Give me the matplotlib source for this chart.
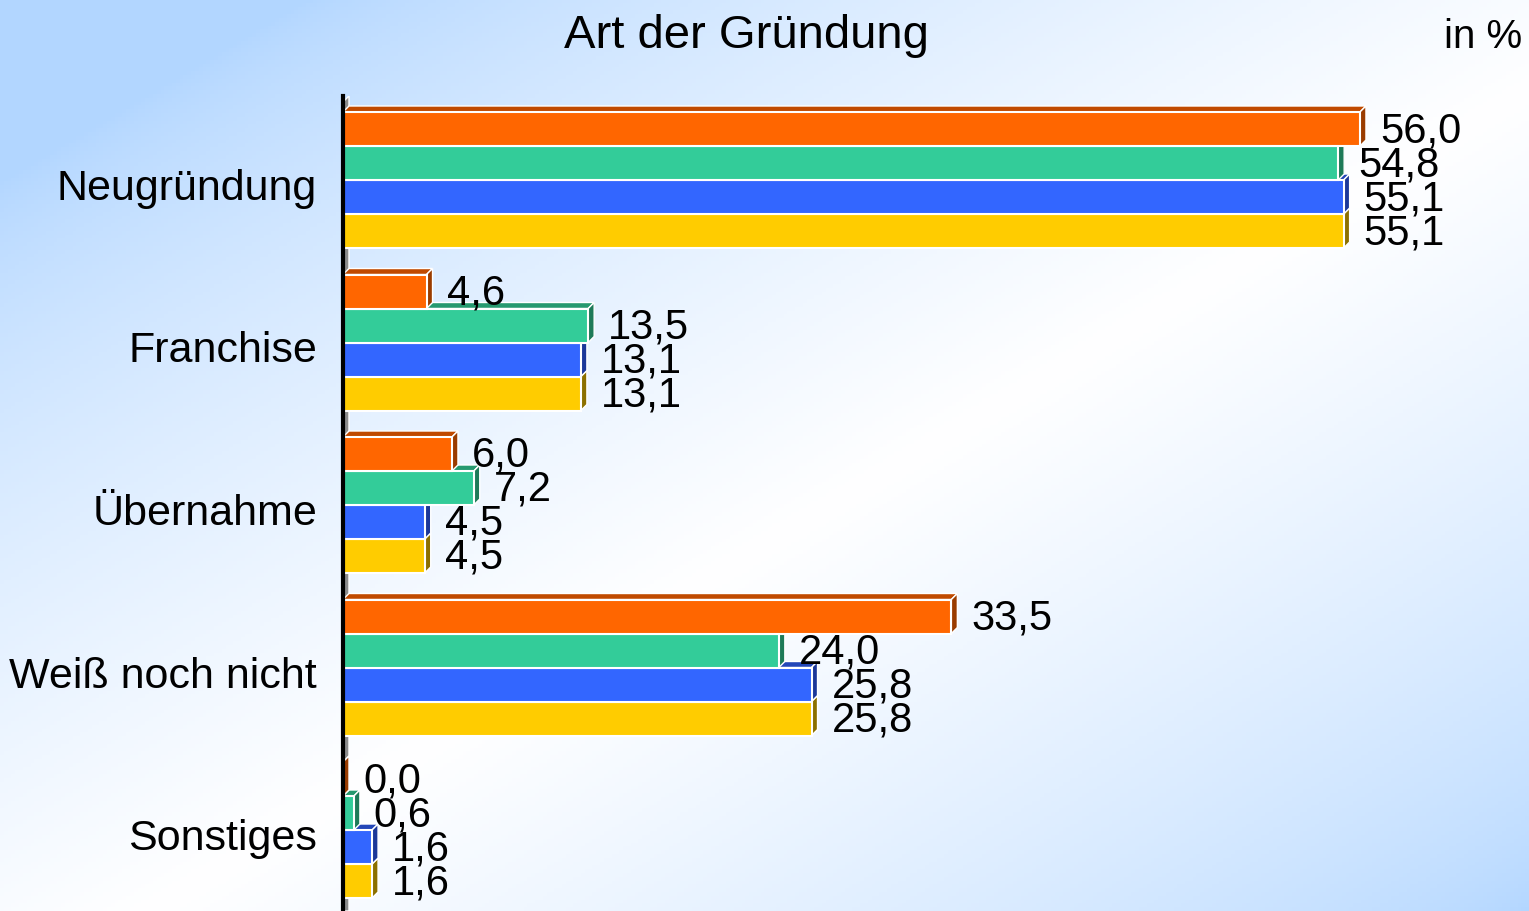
import numpy as np
import matplotlib

matplotlib.use('Agg')
import matplotlib.pyplot as plt
from matplotlib.patches import Polygon

plt.rcParams['font.family'] = ['Liberation Sans', 'DejaVu Sans']

categories = ['Neugründung', 'Franchise', 'Übernahme', 'Weiß noch nicht', 'Sonstiges']
series_1 = [56.0, 4.6, 6.0, 33.5, 0.0]
series_2 = [54.8, 13.5, 7.2, 24.0, 0.6]
series_3 = [55.1, 13.1, 4.5, 25.8, 1.6]
series_4 = [55.1, 13.1, 4.5, 25.8, 1.6]

front_colors = ['#FF6600', '#33CC99', '#3366FF', '#FFCC00']
top_colors = ['#C04A00', '#26996F', '#2447B8', '#B38F00']
side_colors = ['#9A3C00', '#1E7A58', '#1C3899', '#8C7000']

W, H = 1529, 912
fig = plt.figure(figsize=(W / 100, H / 100), dpi=100)

# background gradient (light blue corners, white across the middle)
bg = fig.add_axes([0, 0, 1, 1])
gx, gy = np.meshgrid(np.linspace(0, 1, 400), np.linspace(0, 1, 240))
t = (gx + gy) / 2
w = np.clip(1 - np.abs(t - 0.55) / 0.45, 0, 1) ** 0.7
c0 = np.array([0.70, 0.84, 1.0])
c1 = np.array([1.0, 1.0, 1.0])
img = c0[None, None, :] * (1 - w[..., None]) + c1[None, None, :] * w[..., None]
bg.imshow(img, aspect='auto', extent=[0, 1, 0, 1], origin='upper')
bg.axis('off')

# plot area
px_x = 18.16   # pixels per percent
px_y = 162.5   # pixels per category
ax = fig.add_axes([343 / W, 0, (W - 343) / W, (H - 97) / H])
ax.patch.set_alpha(0)
ax.set_xlim(0, (W - 343) / px_x)
y_top = -(181 - 97) / px_y
y_bot = (H - 181) / px_y
ax.set_ylim(y_bot, y_top)
for s in ['top', 'right', 'bottom']:
    ax.spines[s].set_visible(False)
ax.spines['left'].set_linewidth(3)
ax.spines['left'].set_zorder(5)
ax.set_xticks([])
ax.set_yticks([])

dx = 6 / px_x
dy = 6 / px_y
bh = 34 / px_y

# grey depth wall
ax.add_patch(Polygon([(0, y_bot), (0, y_top + dy), (dx, y_top), (dx, y_bot)],
                     closed=True, facecolor='#8C8C8C', edgecolor='white', lw=1, zorder=1.5))

all_series = [series_1, series_2, series_3, series_4]
y_pos = np.arange(len(categories))

for j, vals in enumerate(all_series):
    ys = y_pos + (j - 1.5) * bh
    z = 2 + (3 - j) * 0.1
    for y, v in zip(ys, vals):
        top = y - bh / 2
        bot = y + bh / 2
        ax.add_patch(Polygon([(0, top), (v, top), (v + dx, top - dy), (dx, top - dy)],
                             closed=True, facecolor=top_colors[j], edgecolor='white',
                             lw=1, zorder=z - 0.05))
        ax.add_patch(Polygon([(v, top), (v, bot), (v + dx, bot - dy), (v + dx, top - dy)],
                             closed=True, facecolor=side_colors[j], edgecolor='white',
                             lw=1, zorder=z - 0.05))
        ax.text(v + 1.1, y + 12 / px_y, f'{v:.1f}'.replace('.', ','),
                fontsize=30, ha='left', va='baseline', zorder=6)
    ax.barh(ys, vals, height=bh, color=front_colors[j], edgecolor='white',
            linewidth=1.5, zorder=z)

for y, name in zip(y_pos, categories):
    ax.text(-26 / px_x, y + 19 / px_y, name, fontsize=31, ha='right', va='baseline',
            clip_on=False)

fig.text(746 / W, 1 - 48 / H, 'Art der Gründung', fontsize=34, ha='center', va='baseline')
fig.text(1522 / W, 1 - 48 / H, 'in %', fontsize=29, ha='right', va='baseline')

fig.savefig('out.png', dpi=100)
